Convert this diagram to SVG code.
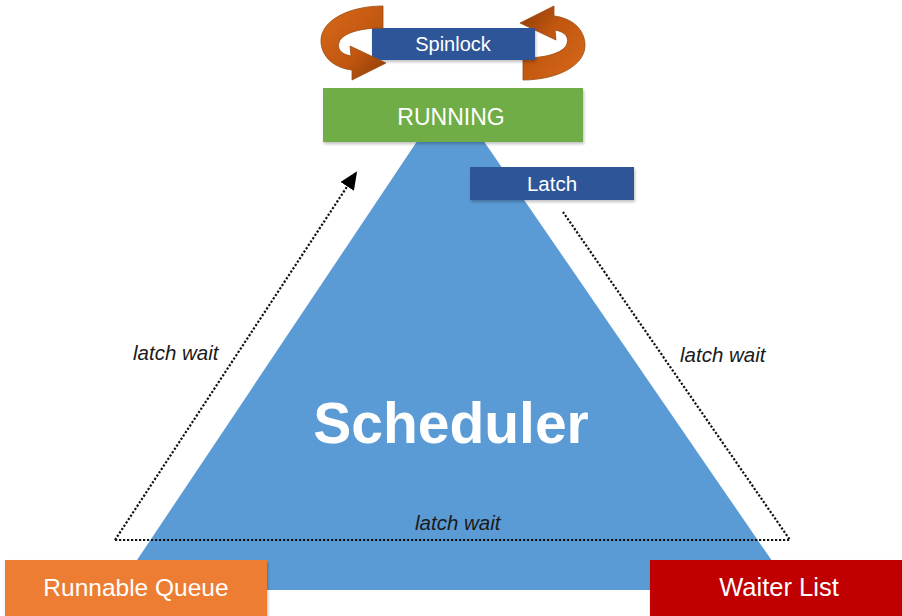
<svg xmlns="http://www.w3.org/2000/svg" width="902" height="616" viewBox="0 0 902 616">
<defs>
<linearGradient id="og" x1="0" y1="0" x2="1" y2="1">
<stop offset="0" stop-color="#D8691A"/>
<stop offset="0.6" stop-color="#C0560F"/>
<stop offset="1" stop-color="#8A3A08"/>
</linearGradient>
<filter id="sh" x="-10%" y="-10%" width="125%" height="140%">
<feDropShadow dx="1" dy="2" stdDeviation="1.5" flood-color="#000" flood-opacity="0.25"/>
</filter>
<marker id="ahb" markerWidth="20" markerHeight="20" refX="16" refY="10" orient="auto" markerUnits="userSpaceOnUse" viewBox="0 0 20 20">
<path d="M0,2 L18,10 L0,18 Z" fill="#000"/>
</marker>
</defs>
<style>
.lbl{font-family:"Liberation Sans",Arial,sans-serif;fill:#fff;text-anchor:middle}
.wait{font-family:"Liberation Sans",Arial,sans-serif;font-style:italic;font-size:20.5px;fill:#1a1a1a}
.dot{fill:none;stroke:#111;stroke-width:2.2;stroke-dasharray:2.2 1.8}
.arr{fill:url(#og);stroke:#9A4A10;stroke-width:0.8}
</style>
<rect width="902" height="616" fill="#fff"/>
<g id="scheduler">
<polygon points="450,92 117,590 792,590" fill="#5B9BD5"/>
<text x="451" y="443" class="lbl" font-size="57" font-weight="bold">Scheduler</text>
</g>
<g id="spinlock">
<path class="arr" transform="rotate(180 453 43)" d="M 383,6 C 350,6 320,20 321,42 C 322,58 335,68 352,70 L 352,80 L 386,63 L 350,46 L 351,56 C 340,54 336,48 340,40 C 346,32 362,28 383,28 Z"/>
<rect x="372" y="28" width="163" height="32" fill="#2F5597" filter="url(#sh)"/>
<path class="arr" d="M 383,6 C 350,6 320,20 321,42 C 322,58 335,68 352,70 L 352,80 L 386,63 L 350,46 L 351,56 C 340,54 336,48 340,40 C 346,32 362,28 383,28 Z"/>
<text x="453" y="51" class="lbl" font-size="20">Spinlock</text>
</g>
<g id="running">
<rect x="323" y="88" width="260" height="54" fill="#70AD47" filter="url(#sh)"/>
<text x="451" y="125" class="lbl" font-size="23">RUNNING</text>
</g>
<g id="latch">
<rect x="470" y="167" width="164" height="33" fill="#2F5597" filter="url(#sh)"/>
<text x="552" y="191" class="lbl" font-size="20.5">Latch</text>
</g>
<g id="connectors">
<path class="dot" d="M 115,540 L 356,173" marker-end="url(#ahb)"/>
<path class="dot" d="M 115,540 L 790,540 L 563,212"/>
<text x="133" y="360" class="wait">latch wait</text>
<text x="680" y="362" class="wait">latch wait</text>
<text x="415" y="530" class="wait">latch wait</text>
</g>
<g id="runnable">
<rect x="5" y="560" width="262" height="56" fill="#ED7D31" filter="url(#sh)"/>
<text x="136" y="596" class="lbl" font-size="24.5">Runnable Queue</text>
</g>
<g id="waiter">
<rect x="650" y="560" width="252" height="56" fill="#C00000" filter="url(#sh)"/>
<text x="779" y="596" class="lbl" font-size="25.5">Waiter List</text>
</g>
</svg>
